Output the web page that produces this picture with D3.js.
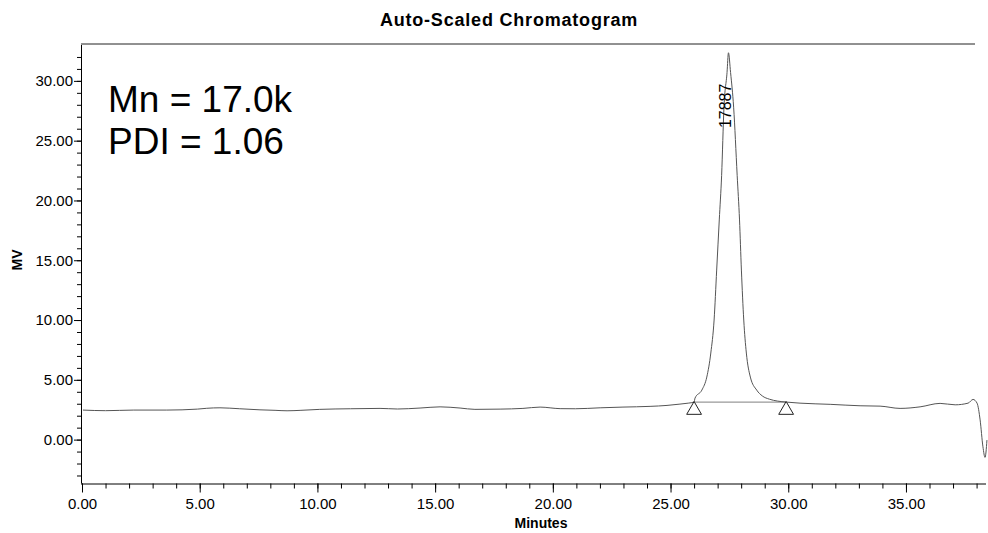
<!DOCTYPE html>
<html lang="en">

<head>
    <meta charset="UTF-8">
    <title>Auto-Scaled Chromatogram</title>
    <style>
        body { margin: 0; background: #fff; }
        svg { display: block; font-family: "Liberation Sans", Arial, sans-serif; }
    </style>
</head>

<body>
    <div id="chart"></div>
    <script src="https://d3js.org/d3.v7.min.js"></script>
    <script>

        // trace: time (minutes) and detector signal (MV)
        var times = [0.04, 1.0, 2.2, 3.6, 4.9, 5.3, 5.86, 6.7, 7.56, 8.2, 8.71, 9.3, 10.1, 11.4, 12.66, 13.4,
            14.36, 15.21, 16.06, 16.69, 17.76, 18.73, 19.46, 20.31, 20.96, 22.01, 22.98, 24.13, 24.85, 25.4, 25.75,
            26.0, 26.04, 26.33, 26.54, 26.71, 26.85, 26.96, 27.07, 27.17, 27.27, 27.4, 27.46,
            27.55, 27.68, 27.83, 27.93, 28.01, 28.11, 28.22, 28.39, 28.66, 28.9, 29.2, 29.55, 29.91,
            30.5, 31.78, 33.05, 33.9, 34.75, 35.6, 36.45, 37.09, 37.64, 37.85, 38.02, 38.15, 38.27, 38.36, 38.44];
        var signal = [2.47, 2.42, 2.47, 2.47, 2.55, 2.62, 2.66, 2.58, 2.49, 2.45, 2.41, 2.45, 2.53, 2.58, 2.61, 2.56,
            2.64, 2.74, 2.64, 2.53, 2.55, 2.61, 2.72, 2.59, 2.58, 2.66, 2.72, 2.78, 2.86, 2.97, 3.05,
            3.14, 3.47, 4.14, 5.23, 7.24, 10.0, 14.18, 18.37, 22.1, 27.8, 30.7, 32.35,
            30.7, 27.8, 22.1, 18.37, 14.18, 10.0, 7.24, 5.23, 4.14, 3.65, 3.38, 3.22, 3.14,
            3.05, 2.95, 2.83, 2.8, 2.61, 2.74, 3.03, 2.91, 3.05, 3.36, 3.05, 1.65, -0.6, -1.49, -0.04];

        // integrated peak: start / end of its baseline, apex and label
        var peakStart = [26.0, 3.14];
        var peakEnd = [29.91, 3.14];
        var peakApex = [27.46, 32.35];
        var peakLabel = "17887";

        var xTicks = [0, 5, 10, 15, 20, 25, 30, 35];
        var yTicks = [0, 5, 10, 15, 20, 25, 30];
        var xMinor = d3.range(0, 39, 1);
        var yMinor = d3.range(-3, 33, 1);

        var notes = ["Mn = 17.0k", "PDI = 1.06"];

        var W = 988, H = 533;
        // plot frame (window.top is read-only, so no bare "top")
        var frame = { left: 81, right: 986, top: 45, bottom: 483.5 };

        var svg = d3.select("#chart")
            .append("svg")
            .attr("width", W)
            .attr("height", H);

        var x = d3.scaleLinear().domain([0, 38.4]).range([frame.left + 1, frame.right]);
        var y = d3.scaleLinear().domain([-3.67, 33.0]).range([frame.bottom, frame.top]);
        var fmt = d3.format(".2f");

        // title
        svg.append("text")
            .attr("x", 509)
            .attr("y", 26)
            .attr("text-anchor", "middle")
            .attr("font-size", 18)
            .attr("font-weight", "bold")
            .attr("letter-spacing", 0.8)
            .text("Auto-Scaled Chromatogram");

        // top frame line
        svg.append("line")
            .attr("x1", frame.left).attr("x2", 975)
            .attr("y1", frame.top - 1).attr("y2", frame.top - 1)
            .attr("stroke", "#222");

        // Y axis: minor ticks, then major ticks with labels
        svg.append("g")
            .attr("transform", "translate(" + frame.left + ",0)")
            .call(d3.axisLeft(y).tickValues(yMinor).tickSize(4).tickFormat(""))
            .call(function (g) { g.select(".domain").remove(); });
        var yAxis = svg.append("g")
            .attr("transform", "translate(" + frame.left + ",0)")
            .call(d3.axisLeft(y).tickValues(yTicks).tickSize(7).tickPadding(1).tickFormat(fmt));
        yAxis.select(".domain").attr("d", "M0.5," + frame.top + "V" + frame.bottom);
        yAxis.selectAll("text").attr("font-size", 15).attr("font-family", "Liberation Sans, Arial, sans-serif");

        // X axis
        svg.append("g")
            .attr("transform", "translate(0," + frame.bottom + ")")
            .call(d3.axisBottom(x).tickValues(xMinor).tickSize(5).tickFormat(""))
            .call(function (g) { g.select(".domain").remove(); });
        var xAxis = svg.append("g")
            .attr("transform", "translate(0," + frame.bottom + ")")
            .call(d3.axisBottom(x).tickValues(xTicks).tickSize(9).tickPadding(6).tickFormat(fmt));
        xAxis.select(".domain").attr("d", "M" + frame.left + ",0.5H" + frame.right);
        xAxis.selectAll("text").attr("font-size", 15).attr("font-family", "Liberation Sans, Arial, sans-serif");

        // axis titles
        svg.append("text")
            .attr("x", 541)
            .attr("y", 528)
            .attr("text-anchor", "middle")
            .attr("font-size", 14)
            .attr("font-weight", "bold")
            .text("Minutes");
        svg.append("text")
            .attr("transform", "translate(22,260)rotate(-90)")
            .attr("text-anchor", "middle")
            .attr("font-size", 14)
            .attr("font-weight", "bold")
            .text("MV");

        // peak baseline
        svg.append("line")
            .attr("x1", x(peakStart[0])).attr("y1", y(peakStart[1]))
            .attr("x2", x(peakEnd[0])).attr("y2", y(peakEnd[1]))
            .attr("stroke", "#999")
            .attr("stroke-width", 1.2);

        // the trace
        var line = d3.line()
            .x(function (d) { return x(d[0]); })
            .y(function (d) { return y(d[1]); })
            .curve(d3.curveMonotoneX);
        svg.append("path")
            .datum(d3.zip(times, signal))
            .attr("d", line)
            .attr("fill", "none")
            .attr("stroke", "#555")
            .attr("stroke-width", 1);

        // peak start / end markers
        var tri = d3.symbol().type(d3.symbolTriangle).size(95);
        svg.selectAll(".marker")
            .data([peakStart, peakEnd])
            .enter()
            .append("path")
            .attr("class", "marker")
            .attr("transform", function (d) { return "translate(" + x(d[0]) + "," + (y(d[1]) + 8) + ")"; })
            .attr("d", tri)
            .attr("fill", "#fff")
            .attr("stroke", "#222")
            .attr("stroke-width", 1);

        // peak label, rotated, reading upwards
        svg.append("text")
            .attr("transform", "translate(" + (x(peakApex[0]) + 3) + "," + y(peakApex[1] - 6.3) + ")rotate(-90)")
            .attr("font-size", 16)
            .text(peakLabel);

        // annotation
        svg.selectAll(".note")
            .data(notes)
            .enter()
            .append("text")
            .attr("class", "note")
            .attr("x", 108)
            .attr("y", function (d, i) { return 112 + i * 42; })
            .attr("font-size", 37)
            .text(function (d) { return d; });

    </script>
</body>

</html>
